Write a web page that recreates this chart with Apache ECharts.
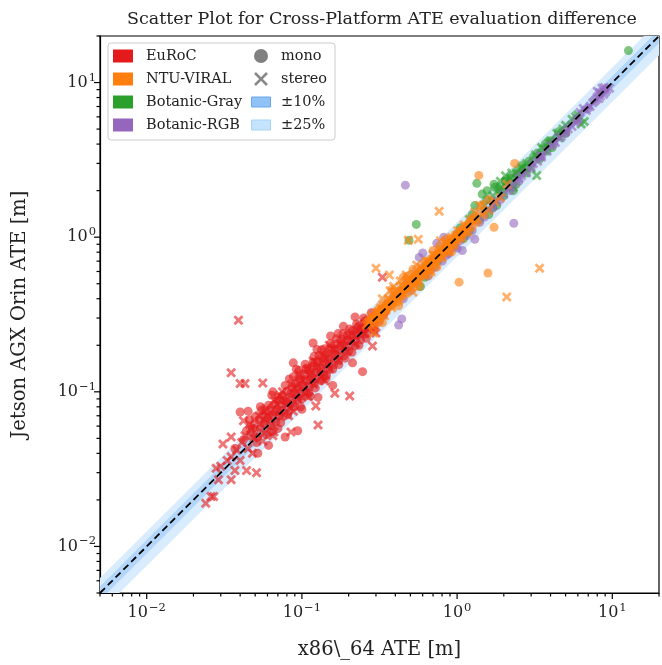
<!DOCTYPE html>
<html>
<head>
<meta charset="utf-8">
<script src="https://cdn.jsdelivr.net/npm/echarts@6/dist/echarts.min.js"></script>
<style>
  html, body { margin: 0; padding: 0; background: #fff; }
  #chart { width: 662px; height: 665px; }
</style>
</head>
<body>
<div id="chart"></div>
<script>
// Axis range (both axes, metres, log scale)
const axisMin = 0.005;
const axisMax = 20;
const majorTicks = [0.01, 0.1, 1, 10];

// Tolerance bands around the y = x reference line
const bandLabels = ['±25%', '±10%'];
const bandFractions = [0.25, 0.10];

// Dataset names and camera modes
const datasets = ['EuRoC', 'NTU-VIRAL', 'Botanic-Gray', 'Botanic-RGB'];
const modes = ['mono', 'stereo'];

// ATE pairs [x86_64, Jetson AGX Orin] per dataset and camera mode
const eurocMono = [
  [0.040,0.074],[0.045,0.075],[0.061,0.045],[0.078,0.051],[0.088,0.154],[0.118,0.207],[0.153,0.230],[0.212,0.154],[0.246,0.135],[0.127,0.092],
  [0.037,0.043],[0.042,0.049],[0.044,0.056],[0.047,0.052],[0.049,0.061],[0.051,0.047],[0.053,0.066],[0.054,0.058],[0.056,0.071],[0.057,0.062],
  [0.059,0.053],[0.060,0.068],[0.062,0.076],[0.063,0.060],[0.065,0.071],[0.066,0.083],[0.068,0.064],[0.069,0.077],[0.071,0.088],[0.072,0.070],
  [0.074,0.081],[0.075,0.095],[0.077,0.073],[0.079,0.086],[0.080,0.101],[0.082,0.079],[0.084,0.092],[0.086,0.108],[0.087,0.084],[0.089,0.097],
  [0.091,0.114],[0.093,0.089],[0.095,0.104],[0.097,0.121],[0.099,0.094],[0.101,0.110],[0.103,0.131],[0.106,0.100],[0.108,0.117],[0.110,0.139],
  [0.112,0.107],[0.115,0.125],[0.117,0.146],[0.120,0.114],[0.123,0.133],[0.126,0.157],[0.129,0.121],[0.132,0.142],[0.135,0.168],[0.138,0.130],
  [0.141,0.152],[0.145,0.178],[0.148,0.139],[0.152,0.163],[0.156,0.191],[0.160,0.149],[0.164,0.174],[0.168,0.204],[0.172,0.160],[0.177,0.186],
  [0.181,0.219],[0.186,0.171],[0.191,0.199],[0.196,0.233],[0.201,0.184],[0.207,0.213],[0.213,0.249],[0.219,0.198],[0.225,0.229],[0.232,0.266],
  [0.239,0.216],[0.246,0.247],[0.254,0.286],[0.262,0.238],[0.271,0.265],[0.281,0.300],[0.292,0.262],[0.305,0.296],[0.320,0.330],[0.335,0.312],
  [0.064,0.095],[0.083,0.121],[0.105,0.151],[0.134,0.187],[0.171,0.238],[0.054,0.080],[0.046,0.066],[0.098,0.080],[0.143,0.122],[0.113,0.094],
  [0.220,0.305],[0.158,0.110],[0.100,0.077],[0.094,0.056],[0.052,0.040],[0.070,0.058],[0.120,0.170],[0.185,0.265],
  [0.048,0.058],[0.050,0.069],[0.052,0.051],[0.055,0.076],[0.058,0.065],[0.061,0.082],[0.063,0.055],[0.067,0.074],[0.070,0.092],[0.073,0.063],
  [0.076,0.089],[0.078,0.110],[0.081,0.071],[0.085,0.098],[0.088,0.125],[0.090,0.080],[0.094,0.108],[0.096,0.138],[0.100,0.090],[0.104,0.120],
  [0.107,0.142],[0.111,0.098],[0.114,0.132],[0.118,0.155],[0.122,0.106],[0.125,0.142],[0.129,0.172],[0.133,0.118],[0.137,0.156],[0.140,0.190],
  [0.144,0.128],[0.149,0.168],[0.153,0.205],[0.158,0.140],[0.163,0.185],[0.167,0.220],[0.173,0.150],[0.178,0.198],[0.184,0.238],[0.190,0.165],
  [0.196,0.215],[0.203,0.255],[0.210,0.180],[0.217,0.232],[0.225,0.275],[0.233,0.200],[0.241,0.255],[0.250,0.300],[0.260,0.222],[0.270,0.280],
  [0.280,0.325],[0.290,0.250],[0.300,0.310],[0.315,0.285],[0.330,0.345],[0.345,0.330],[0.360,0.370],[0.065,0.100],[0.092,0.140],[0.125,0.188]
];
const eurocStereo = [
  [0.039,0.290],[0.035,0.133],[0.040,0.113],[0.043,0.113],[0.056,0.114],[0.163,0.098],[0.203,0.094],[0.123,0.081],[0.127,0.061],[0.085,0.055],
  [0.031,0.046],[0.035,0.051],[0.044,0.031],[0.051,0.030],[0.035,0.027],[0.028,0.032],[0.026,0.021],[0.024,0.019],[0.027,0.021],[0.037,0.031],
  [0.035,0.038],[0.330,0.550],[0.285,0.198],
  [0.038,0.042],[0.041,0.047],[0.045,0.043],[0.047,0.058],[0.049,0.050],[0.054,0.062],[0.057,0.054],[0.060,0.070],[0.064,0.061],[0.069,0.083],
  [0.073,0.069],[0.079,0.088],[0.084,0.079],[0.089,0.105],[0.094,0.090],[0.099,0.118],[0.105,0.098],[0.112,0.128],[0.119,0.112],[0.126,0.148],
  [0.134,0.126],[0.142,0.165],[0.151,0.142],[0.161,0.188],[0.171,0.160],[0.183,0.215],[0.195,0.182],[0.208,0.240],[0.222,0.205],[0.237,0.262],
  [0.253,0.238],[0.270,0.290],[0.290,0.268],[0.300,0.240],[0.058,0.075],[0.072,0.095],[0.095,0.130],[0.118,0.158],[0.150,0.200],[0.042,0.065],
  [0.048,0.040],[0.066,0.055],[0.082,0.070],[0.110,0.093],
  [0.043,0.052],[0.046,0.062],[0.050,0.055],[0.053,0.070],[0.056,0.048],[0.059,0.078],[0.062,0.068],[0.067,0.088],[0.071,0.076],[0.075,0.100],
  [0.080,0.083],[0.086,0.112],[0.091,0.097],[0.097,0.125],[0.103,0.108],[0.109,0.140],[0.116,0.120],[0.123,0.155],[0.130,0.135],[0.138,0.172],
  [0.147,0.150],[0.156,0.190],[0.166,0.170],[0.176,0.205],[0.188,0.195],[0.200,0.230],[0.212,0.215],[0.226,0.250],[0.240,0.235],[0.255,0.275],
  [0.272,0.255],[0.033,0.036],[0.030,0.033],[0.040,0.036],[0.029,0.027],[0.065,0.052],[0.088,0.075],[0.140,0.118]
];
const ntuMono = [
  [1.38,2.51],[2.35,3.00],[1.58,0.586],[1.03,0.512],[1.73,1.16],
  [0.27,0.29],[0.29,0.27],[0.30,0.33],[0.32,0.30],[0.33,0.36],[0.35,0.33],[0.36,0.39],[0.38,0.36],[0.39,0.42],[0.41,0.38],
  [0.42,0.45],[0.44,0.41],[0.45,0.48],[0.47,0.44],[0.48,0.52],[0.50,0.47],[0.52,0.55],[0.54,0.50],[0.55,0.59],[0.57,0.53],
  [0.59,0.63],[0.61,0.57],[0.63,0.67],[0.65,0.61],[0.67,0.72],[0.69,0.65],[0.71,0.76],[0.73,0.69],[0.76,0.81],[0.78,0.73],
  [0.80,0.86],[0.83,0.78],[0.86,0.92],[0.88,0.83],[0.91,0.97],[0.94,0.88],[0.97,1.04],[1.00,0.94],[1.04,1.10],[1.08,1.01],
  [1.12,1.18],[1.16,1.08],[1.20,1.26],[1.25,1.16],[1.30,1.36],[1.35,1.25],[1.42,1.45],[1.50,1.40],[0.40,0.40],[0.46,0.46],
  [0.53,0.52],[0.60,0.60],[0.70,0.70],[0.82,0.82],[0.95,0.95],[0.35,0.36],[0.56,0.58],[0.75,0.74],[1.10,1.12],[0.31,0.34],
  [0.62,0.70],[0.85,0.97],[0.48,0.56],[1.60,1.75],[1.45,1.62],
  [0.28,0.30],[0.30,0.31],[0.31,0.30],[0.33,0.33],[0.34,0.35],[0.36,0.35],[0.37,0.38],[0.39,0.39],[0.41,0.42],[0.43,0.42],
  [0.44,0.45],[0.46,0.47],[0.48,0.47],[0.50,0.51],[0.51,0.53],[0.53,0.54],[0.56,0.55],[0.58,0.59],[0.60,0.62],[0.62,0.61],
  [0.64,0.66],[0.66,0.67],[0.68,0.68],[0.71,0.72],[0.73,0.75],[0.75,0.77],[0.78,0.79],[0.81,0.83],[0.84,0.85],[0.87,0.89],
  [0.90,0.91],[0.93,0.96],[0.97,0.99],[1.01,1.03],[1.05,1.06],[1.09,1.12],[1.14,1.15],[1.19,1.21],[1.24,1.28],[1.32,1.30],
  [0.45,0.55],[0.52,0.62],[0.38,0.46],[0.57,0.48],[0.66,0.57],[0.42,0.36],[0.74,0.64],[0.92,0.80],[0.33,0.28],[0.70,0.82]
];
const ntuStereo = [
  [0.767,1.47],[0.485,0.956],[0.562,0.970],[0.300,0.630],[0.366,0.569],[3.40,0.630],[2.09,0.410],
  [0.26,0.27],[0.28,0.31],[0.30,0.28],[0.32,0.35],[0.34,0.31],[0.36,0.40],[0.38,0.35],[0.40,0.44],[0.42,0.39],[0.44,0.49],
  [0.46,0.43],[0.49,0.54],[0.51,0.47],[0.53,0.58],[0.56,0.52],[0.58,0.64],[0.61,0.56],[0.64,0.70],[0.67,0.62],[0.70,0.77],
  [0.73,0.67],[0.77,0.84],[0.80,0.74],[0.84,0.92],[0.88,0.81],[0.92,1.00],[0.96,0.89],[1.01,1.10],[1.06,0.98],[1.11,1.20],
  [1.17,1.08],[1.23,1.30],[0.43,0.52],[0.37,0.45],[0.55,0.66],[0.33,0.40],[0.68,0.60],[0.52,0.44],[0.78,0.95],[0.29,0.24],
  [1.40,1.60],[1.60,1.50],[1.90,1.80],[2.10,2.20],[1.30,1.45],[1.75,1.70],
  [0.27,0.28],[0.29,0.30],[0.31,0.32],[0.33,0.34],[0.35,0.36],[0.37,0.37],[0.39,0.40],[0.41,0.41],[0.43,0.44],[0.45,0.46],
  [0.47,0.48],[0.50,0.50],[0.52,0.53],[0.54,0.55],[0.57,0.57],[0.60,0.61],[0.63,0.63],[0.66,0.66],[0.69,0.70],[0.72,0.72],
  [0.76,0.77],[0.79,0.80],[0.83,0.83],[0.87,0.88],[0.91,0.91],[0.96,0.97],[1.00,1.01],[1.05,1.06],[0.39,0.48],[0.47,0.57]
];
const grayMono = [
  [12.7,16.1],[1.34,2.23],[0.546,1.21],[0.49,0.956],[1.56,2.00],[1.73,2.20],
  [0.95,0.90],[1.05,1.15],[1.15,1.05],[1.25,1.40],[1.40,1.30],[1.55,1.75],[1.70,1.55],[1.85,2.05],[2.00,1.85],[2.20,2.40],
  [2.40,2.20],[2.60,2.90],[2.80,2.60],[3.10,3.30],[3.40,3.20],[3.70,4.00],[4.10,3.80],[4.50,4.80],[5.00,4.70],[1.20,1.10],
  [1.60,1.40],[1.45,1.90],[1.75,2.10],[1.30,1.60],[1.10,0.98],[0.75,0.70],[0.62,0.55],[0.58,0.48],[1.80,1.60],[2.30,2.00],
  [2.05,2.30],[2.45,2.55],[2.90,3.10],[3.30,3.50],[1.90,2.00],[2.70,2.80],[0.90,0.85],[1.00,1.05],[4.00,4.20],[3.80,3.60]
];
const grayStereo = [
  [6.30,5.40],[3.26,2.51],[1.90,2.30],[2.05,2.50],[2.20,2.40],[2.50,2.70],[2.80,3.00],[3.20,3.40],[3.50,3.80],[4.00,4.20],
  [4.40,4.70],[5.00,5.30],[5.50,5.80],[6.00,6.20],[1.50,1.60],[1.70,1.85],[1.20,1.30],[6.60,5.60],[2.30,2.10],[3.00,2.80],
  [2.10,2.30],[2.40,2.60],[2.60,2.80],[3.60,3.70],[4.80,5.00],[5.80,6.00],[1.95,2.10],[2.25,2.60],[3.90,4.10],[4.60,4.40]
];
const rgbMono = [
  [0.464,2.17],[2.32,1.23],[0.42,0.27],[0.44,0.296],[1.00,0.85],[1.08,0.82],[1.30,0.97],[0.57,0.74],[0.60,0.79],[0.74,0.915],
  [0.82,1.00],[0.45,0.40],[0.50,0.45],[0.55,0.52],[0.65,0.56],[0.72,0.64],[0.80,0.70],[0.88,0.78],[0.97,0.87],[1.05,0.95],
  [1.15,1.02],[1.50,1.35],[1.70,1.55],[1.90,1.75],[2.20,2.00],[2.50,2.30],[3.00,2.80],[3.50,3.30],[4.20,4.00],[5.00,4.70],
  [6.00,5.70],[7.00,6.80],[0.85,0.76],[0.48,0.52],[1.25,1.10],[1.40,1.25],[0.62,0.60],[0.68,0.62],[0.90,0.82]
];
const rgbStereo = [
  [7.50,7.40],[7.90,7.80],[8.30,8.60],[8.80,8.40],[9.20,9.00],[9.60,9.20],[8.00,8.80],[8.60,9.20],[7.20,7.00],[6.00,5.80],
  [5.50,5.20],[5.00,4.80],[4.50,4.40],[4.00,3.90],[3.50,3.30],[3.10,3.00],[2.80,2.60],[2.50,2.40],[2.20,2.10],[2.00,1.90],
  [1.80,1.70],[1.60,1.50],[3.30,3.10],[3.45,3.40],[4.30,4.10],[6.20,6.40],[6.50,6.80],[2.60,2.50],[8.20,7.90],[9.00,8.70],
  [5.20,5.00],[5.80,5.50],[6.80,6.60],[7.70,7.60],[8.40,8.20],[8.90,9.30],[3.80,3.60],[4.70,4.50],[2.30,2.20],[1.70,1.60]
];

const seriesData = {
  'EuRoC': [eurocMono, eurocStereo],
  'NTU-VIRAL': [ntuMono, ntuStereo],
  'Botanic-Gray': [grayMono, grayStereo],
  'Botanic-RGB': [rgbMono, rgbStereo]
};
// drawing order of the point clouds (later ones sit on top)
const drawOrder = ['EuRoC', 'Botanic-Gray', 'Botanic-RGB', 'NTU-VIRAL'];

const colors = {
  'EuRoC': '#e41a1c',
  'NTU-VIRAL': '#ff7f0e',
  'Botanic-Gray': '#2ca02c',
  'Botanic-RGB': '#9467bd'
};
const bandColors = ['#d8ecfd', '#b2d6fa'];
const FONT = 'DejaVu Serif';
const CROSS = 'path://M2,0 L5,3 L8,0 L10,2 L7,5 L10,8 L8,10 L5,7 L2,10 L0,8 L3,5 L0,2 Z';

// Minor tick positions 2..9 x 10^e inside the axis range
const minorTicks = [];
for (let e = -3; e <= 1; e++) {
  for (let k = 2; k <= 9; k++) {
    const v = k * Math.pow(10, e);
    if (v >= axisMin * 0.999 && v <= axisMax * 1.001) minorTicks.push(v);
  }
}

function powerLabel(v) {
  const e = Math.log10(v);
  const r = Math.round(e);
  if (Math.abs(e - r) > 1e-6) return '';
  const exp = r < 0 ? '\u2212' + (-r) : String(r);
  return '{b|10}{s|' + exp + '}';
}
const labelRich = {
  b: { fontFamily: FONT, fontSize: 16, color: '#222' },
  s: { fontFamily: FONT, fontSize: 11.5, color: '#222', padding: [0, 0, 10, 1] }
};

function tickSeries(values, len, isX) {
  return {
    type: 'custom',
    silent: true,
    clip: false,
    z: 5,
    data: values.map(v => isX ? [v, axisMin] : [axisMin, v]),
    renderItem: function (params, api) {
      const p = api.coord([api.value(0), api.value(1)]);
      const shape = isX
        ? { x1: p[0], y1: p[1], x2: p[0], y2: p[1] + len }
        : { x1: p[0], y1: p[1], x2: p[0] - len, y2: p[1] };
      return { type: 'line', shape: shape, style: { stroke: '#000', lineWidth: 1.2 } };
    }
  };
}

const series = [];

// Tolerance bands: y between x*(1-f) and x*(1+f)
bandFractions.forEach(function (f, i) {
  series.push({
    type: 'custom',
    name: bandLabels[i],
    silent: true,
    clip: true,
    z: 1,
    data: [[1 - f, 1 + f]],
    renderItem: function (params, api) {
      const lo = api.value(0), hi = api.value(1);
      const a = axisMin / 2, b = axisMax * 2;
      const pts = [
        api.coord([a, a * hi]), api.coord([b, b * hi]),
        api.coord([b, b * lo]), api.coord([a, a * lo])
      ];
      return { type: 'polygon', shape: { points: pts }, style: { fill: bandColors[i] } };
    }
  });
});

// Scatter points
drawOrder.forEach(function (name) {
  modes.forEach(function (mode, mi) {
    series.push({
      type: 'scatter',
      name: name + ' ' + mode,
      data: seriesData[name][mi],
      symbol: mi === 0 ? 'circle' : CROSS,
      symbolSize: mi === 0 ? 9 : 10,
      itemStyle: { color: colors[name], opacity: 0.6 },
      z: 3
    });
  });
});

// y = x reference line
series.push({
  type: 'line',
  data: [[axisMin, axisMin], [axisMax, axisMax]],
  symbol: 'none',
  silent: true,
  lineStyle: { color: '#000', width: 1.8, type: [7, 4] },
  z: 4
});

series.push(tickSeries(majorTicks, 6, true));
series.push(tickSeries(minorTicks, 3.5, true));
series.push(tickSeries(majorTicks, 6, false));
series.push(tickSeries(minorTicks, 3.5, false));

// Legend drawn as graphic elements
const legendLeft = 108, legendTop = 43, rowH = 23;
const legendFont = 14.5;
const legendChildren = [{
  type: 'rect',
  shape: { x: legendLeft, y: legendTop, width: 227, height: 97, r: 3 },
  style: { fill: 'rgba(255,255,255,0.85)', stroke: '#cccccc', lineWidth: 1 }
}];
datasets.forEach(function (name, i) {
  const cy = legendTop + 13 + i * rowH;
  legendChildren.push({
    type: 'rect', shape: { x: legendLeft + 5, y: cy - 6.5, width: 20, height: 13 },
    style: { fill: colors[name] }
  });
  legendChildren.push({
    type: 'text', x: legendLeft + 38, y: cy,
    style: { text: name, fontFamily: FONT, fontSize: legendFont, fill: '#222', verticalAlign: 'middle' }
  });
});
const col2 = legendLeft + 143;
const rightLabels = ['mono', 'stereo', bandLabels[1], bandLabels[0]];
rightLabels.forEach(function (lab, i) {
  const cy = legendTop + 13 + i * rowH;
  const cx = col2 + 10;
  if (i === 0) {
    legendChildren.push({ type: 'circle', shape: { cx: cx, cy: cy, r: 7 }, style: { fill: '#808080' } });
  } else if (i === 1) {
    legendChildren.push({ type: 'line', shape: { x1: cx - 6, y1: cy - 6, x2: cx + 6, y2: cy + 6 }, style: { stroke: '#888', lineWidth: 2.5 } });
    legendChildren.push({ type: 'line', shape: { x1: cx - 6, y1: cy + 6, x2: cx + 6, y2: cy - 6 }, style: { stroke: '#888', lineWidth: 2.5 } });
  } else {
    const inner = i === 2;
    legendChildren.push({
      type: 'rect', shape: { x: cx - 9.5, y: cy - 5, width: 19, height: 10 },
      style: { fill: inner ? '#90c2f5' : '#c4e3fc', stroke: inner ? '#6aa7ef' : '#a9d3f7', lineWidth: 1 }
    });
  }
  legendChildren.push({
    type: 'text', x: col2 + 30, y: cy,
    style: { text: lab, fontFamily: FONT, fontSize: legendFont, fill: '#222', verticalAlign: 'middle' }
  });
});

const chart = echarts.init(document.getElementById('chart'), null, { renderer: 'canvas' });
chart.setOption({
  animation: false,
  backgroundColor: '#fff',
  title: {
    text: 'Scatter Plot for Cross-Platform ATE evaluation difference',
    left: 377, top: 5, textAlign: 'center',
    textStyle: { fontFamily: FONT, fontSize: 17.5, fontWeight: 'normal', color: '#222' }
  },
  grid: {
    left: 100, top: 36, width: 562, height: 557,
    show: true, borderColor: '#000', borderWidth: 1.2, backgroundColor: 'transparent'
  },
  xAxis: {
    type: 'log', logBase: 10, min: axisMin, max: axisMax,
    name: 'x86\\_64 ATE [m]', nameLocation: 'middle', nameGap: 47,
    nameTextStyle: { fontFamily: FONT, fontSize: 19.5, color: '#222' },
    axisLine: { show: true, lineStyle: { color: '#000', width: 1.2 } },
    axisTick: { show: false },
    splitLine: { show: false },
    axisLabel: { margin: 9, formatter: powerLabel, rich: labelRich, showMinLabel: true, showMaxLabel: true }
  },
  yAxis: {
    type: 'log', logBase: 10, min: axisMin, max: axisMax,
    name: 'Jetson AGX Orin ATE [m]', nameLocation: 'middle', nameGap: 70,
    nameTextStyle: { fontFamily: FONT, fontSize: 19.5, color: '#222' },
    axisLine: { show: true, lineStyle: { color: '#000', width: 1.2 } },
    axisTick: { show: false },
    splitLine: { show: false },
    axisLabel: { margin: 4, formatter: powerLabel, rich: labelRich }
  },
  graphic: { elements: [{ type: 'group', z: 100, children: legendChildren }] },
  series: series
});
</script>
</body>
</html>
